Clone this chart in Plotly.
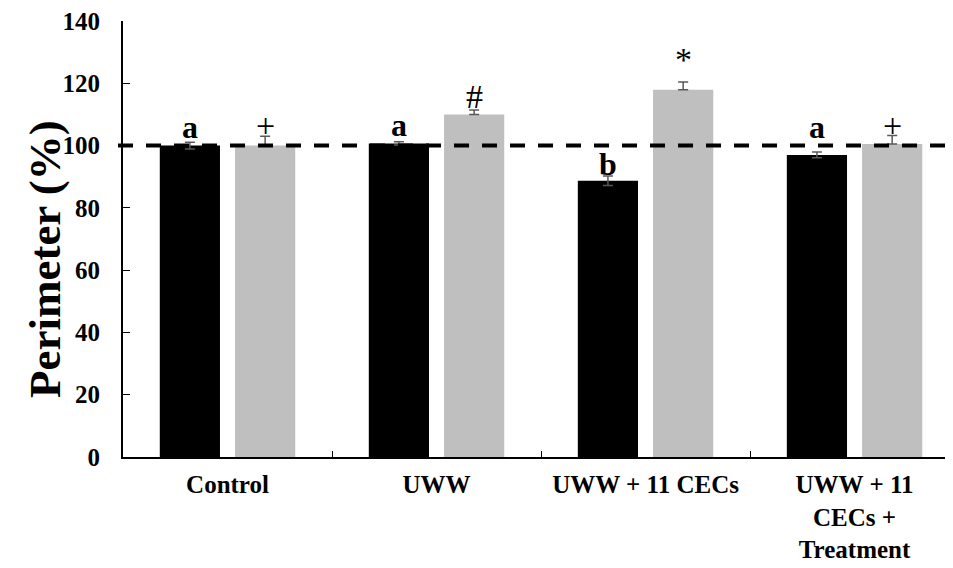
import plotly.graph_objects as go

categories = ["Control", "UWW", "UWW + 11 CECs", "UWW + 11<br>CECs +<br>Treatment"]
black_vals = [100.0, 100.7, 88.7, 97.0]
black_err = [1.1, 0.5, 1.5, 0.9]
grey_vals = [100.0, 110.0, 117.9, 100.5]
grey_err = [3.0, 1.4, 2.5, 2.7]
black_labels = ["a", "a", "b", "a"]
black_label_y = [106.0, 106.6, 94.1, 106.0]
grey_labels = ["+", "#", "*", "+"]
grey_label_y = [106.3, 115.8, 127.5, 106.3]
reference_level = 100
y_ticks = [0, 20, 40, 60, 80, 100, 120, 140]

FONT = "Liberation Serif, Times New Roman, serif"
ERR_COLOR = "#595959"

fig = go.Figure()
fig.add_trace(go.Bar(
    x=categories, y=black_vals, marker=dict(color="#000000", line=dict(width=0)),
    error_y=dict(type="data", array=black_err, arrayminus=black_err,
                 color=ERR_COLOR, thickness=1.5, width=5),
    showlegend=False,
))
fig.add_trace(go.Bar(
    x=categories, y=grey_vals, marker=dict(color="#BFBFBF", line=dict(width=0)),
    error_y=dict(type="data", array=grey_err, arrayminus=[0] * len(grey_err),
                 color=ERR_COLOR, thickness=1.5, width=5),
    showlegend=False,
))

annotations = []
for i, cat in enumerate(categories):
    annotations.append(dict(x=cat, y=black_label_y[i], xref="x", yref="y",
                            text="<b>" + black_labels[i] + "</b>", showarrow=False, xshift=-37.5,
                            yanchor="middle",
                            font=dict(family=FONT, size=32, color="black")))
    annotations.append(dict(x=cat, y=grey_label_y[i], xref="x", yref="y",
                            text=grey_labels[i], showarrow=False, xshift=37.5,
                            yanchor="middle",
                            font=dict(family=FONT, size=34, color="black")))
annotations.append(dict(x=0, y=0.5, xref="paper", yref="paper", xshift=-78, yshift=-20,
                        text="<b>Perimeter (%)</b>", textangle=-90, showarrow=False,
                        xanchor="center", yanchor="middle",
                        font=dict(family=FONT, size=45, color="black")))

fig.update_layout(
    width=945, height=560,
    margin=dict(l=115, r=0, t=13, b=111),
    paper_bgcolor="white", plot_bgcolor="white",
    barmode="group", bargap=0.28, bargroupgap=0.2,
    font=dict(family=FONT, color="black"),
    annotations=annotations,
    shapes=[dict(type="line", xref="paper", yref="y", x0=-0.006, x1=1,
                 y0=reference_level, y1=reference_level,
                 line=dict(color="black", width=4, dash="15px,13px"), layer="above")],
    xaxis=dict(
        type="category", range=[-0.5, 3.471], automargin=False,
        tickvals=categories, ticktext=["<b>" + c + "</b>" for c in categories],
        showline=True, linecolor="black", linewidth=2,
        ticks="inside", tickson="boundaries", ticklen=6, tickcolor="black", tickwidth=1,
        showgrid=False, zeroline=False, ticklabelstandoff=4,
        tickfont=dict(family=FONT, size=25, color="black"),
    ),
    yaxis=dict(
        range=[0, 140], tickvals=y_ticks, ticktext=["<b>%d</b>" % v for v in y_ticks],
        automargin=False,
        showline=True, linecolor="black", linewidth=2,
        ticks="inside", ticklen=7, tickcolor="black", tickwidth=1,
        showgrid=False, zeroline=False, ticklabelstandoff=16,
        ticklabeloverflow="allow",
        tickfont=dict(family=FONT, size=25, color="black"),
    ),
)

fig.write_html("out.html")
